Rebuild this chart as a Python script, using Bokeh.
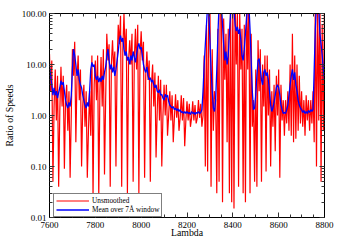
from bokeh.plotting import figure
from bokeh.models import (Range1d, SingleIntervalTicker, FixedTicker, LinearAxis,
                          LogAxis, CustomJSTickFormatter)
from bokeh.embed import file_html
from bokeh.resources import INLINE

# ---- data, wavelength grid 7600..8800 step 5 ----
lam_start, lam_stop, lam_step = 7600, 8800, 5
lam = list(range(lam_start, lam_stop + 1, lam_step))

unsmoothed = [
    16, 3, 12, 0.05, 1.5, 8, 0.8, 6, 0.04, 1.2,           # 7600
    9, 1.5, 6, 0.09, 2, 4, 0.5, 3, 0.06, 1,               # 7650
    20, 6, 28, 0.3, 5, 15, 2, 8, 0.1, 1.5,                # 7700
    4, 0.6, 3, 0.06, 0.5, 3, 0.4, 15, 0.025, 4,           # 7750
    12, 2, 15, 0.025, 3, 14, 1.5, 20, 0.07, 2,            # 7800
    40, 12, 25, 0.04, 10, 30, 8, 18, 0.1, 10,             # 7850
    60, 25, 90, 0.04, 20, 100, 15, 50, 0.03, 12,          # 7900
    30, 10, 40, 0.05, 12, 50, 8, 60, 0.03, 15,            # 7950
    45, 12, 28, 0.06, 6, 18, 5, 12, 0.05, 4,              # 8000
    10, 1.5, 7, 0.15, 1.2, 6, 0.8, 5, 0.1, 1,             # 8050
    4, 1, 4, 0.4, 1, 3, 0.8, 2.5, 0.3, 0.9,               # 8100
    2.6, 0.9, 2, 0.5, 0.9, 2.5, 0.8, 2.2, 0.25, 0.8,      # 8150
    1.9, 0.8, 1.7, 0.6, 0.9, 1.9, 0.8, 1.6, 0.7, 0.9,     # 8200
    2, 0.9, 1.7, 0.6, 1, 15, 0.1, 60, 0.08, 200,          # 8250
    200, 0.04, 20, 0.5, 3, 2, 0.03, 50, 0.05, 200,        # 8300
    200, 0.02, 80, 5, 40, 0.3, 50, 0.03, 200, 0.02,       # 8350
    200, 0.015, 200, 10, 100, 0.04, 100, 8, 50, 0.03,     # 8400
    60, 0.02, 200, 8, 200, 0.03, 40, 0.6, 2, 0.05,        # 8450
    8, 0.04, 30, 3, 20, 0.05, 10, 1.5, 15, 0.08,          # 8500
    15, 1, 8, 0.1, 3, 0.6, 4, 0.2, 6, 1,                  # 8550
    8, 0.06, 4, 0.8, 2, 0.4, 2, 0.7, 3, 0.5,              # 8600
    10, 0.4, 40, 0.3, 15, 0.35, 10, 0.5, 6, 0.7,          # 8650
    3, 0.6, 2, 0.4, 2.5, 0.8, 2, 0.5, 2, 0.7,             # 8700
    3, 0.3, 200, 0.1, 200, 0.8, 200, 0.05, 60, 0.5,       # 8750
    200,                                                  # 8800
]

smoothed = [
    9, 6, 4, 2.5, 3.5, 2.5, 3, 2.2, 2.8, 3.5,             # 7600
    4.8, 4, 4.5, 3, 2, 1.6, 1.4, 1.8, 1.5, 2.5,           # 7650
    8, 20, 15, 10, 6, 8, 5, 4, 3.5, 2.5,                  # 7700
    2, 1.6, 1.4, 1.8, 1.5, 3, 8, 11, 9, 10,               # 7750
    6, 5, 6, 4.5, 5.5, 4.6, 6, 5, 7, 9,                   # 7800
    14, 20, 12, 8, 10, 7, 9, 6, 8, 12,                    # 7850
    18, 30, 37, 28, 33, 20, 15, 18, 12, 14,               # 7900
    10, 15, 12, 18, 14, 11, 16, 22, 26, 20,               # 7950
    22, 15, 10, 8, 7, 9, 6, 5, 5.5, 4.5,                  # 8000
    5, 4, 3.5, 4, 3, 2.8, 3.2, 2.5, 2.6, 2.2,             # 8050
    2, 2.6, 2.3, 2.5, 1.9, 1.6, 1.5, 1.4, 1.5, 1.3,       # 8100
    1.4, 1.25, 1.35, 1.2, 1.3, 1.15, 1.2, 1.1, 1.2, 1.1,  # 8150
    1.2, 1.1, 1.15, 1.05, 1.2, 1.1, 1.15, 1.05, 1.15, 1.1,  # 8200
    1.2, 1.1, 1.15, 1.3, 3, 10, 25, 60, 150, 120,         # 8250
    30, 8, 3, 1.4, 1.2, 2, 8, 40, 150, 150,               # 8300
    150, 60, 25, 12, 18, 10, 15, 40, 100, 150,            # 8350
    150, 120, 60, 45, 55, 40, 50, 30, 15, 12,             # 8400
    20, 40, 80, 150, 150, 50, 12, 3, 1.3, 1.4,            # 8450
    2.5, 6, 12, 13, 8, 5, 4, 7, 8, 6,                     # 8500
    7, 5, 3, 1.6, 1.2, 1.4, 1.8, 2.5, 3.5, 4,             # 8550
    3.5, 2.5, 1.6, 1.3, 1.1, 1.15, 1.1, 1.3, 1.6, 2.5,    # 8600
    4, 6, 8, 5, 7, 4, 3, 2, 1.6, 1.4,                     # 8650
    1.3, 1.15, 1.25, 1.1, 1.2, 1.1, 1.25, 1.15, 1.3, 1.2,  # 8700
    1.3, 8, 50, 150, 150, 120, 40, 25, 15, 8,             # 8750
    5,                                                    # 8800
]

y_ticks = [0.01, 0.1, 1, 10, 100]
series_labels = ["Unsmoothed", "Mean over 7Å window"]
x_label = "Lambda"
y_label = "Ratio of Speeds"

assert len(unsmoothed) == len(lam) == len(smoothed)

FONT = "Liberation Serif"

p = figure(width=342, height=247, y_axis_type="log",
           x_range=Range1d(7600, 8800), y_range=Range1d(0.01, 100),
           output_backend="svg", toolbar_location=None,
           min_border_left=48, min_border_right=18,
           min_border_top=13, min_border_bottom=30)
p.grid.visible = False
p.outline_line_color = "black"
p.background_fill_color = "white"
p.border_fill_color = "white"

p.line(lam, unsmoothed, line_color="#ff0000", line_width=1.2,
       legend_label=series_labels[0])
p.line(lam, smoothed, line_color="#0000ff", line_width=1.3,
       legend_label=series_labels[1])

xt = SingleIntervalTicker(interval=200, num_minor_ticks=4)
minor_y = [m * 10.0 ** e for e in range(-2, 2) for m in range(2, 10)]
yt = FixedTicker(ticks=y_ticks, minor_ticks=minor_y)
fmt = CustomJSTickFormatter(code="return tick.toFixed(2);")
blank = CustomJSTickFormatter(code="return '';")


def style(ax, labels=True):
    ax.major_tick_in = 5
    ax.major_tick_out = 0
    ax.minor_tick_in = 3
    ax.minor_tick_out = 0
    ax.axis_line_color = "black"
    ax.major_tick_line_color = "#333333"
    ax.minor_tick_line_color = "#333333"
    ax.major_label_text_font = FONT
    ax.major_label_text_color = "black"
    ax.major_label_text_font_size = "9px"
    ax.axis_label_text_font = FONT
    ax.axis_label_text_font_style = "normal"
    ax.axis_label_text_color = "black"
    ax.axis_label_text_font_size = "9.8px"
    if not labels:
        ax.formatter = blank
        ax.major_label_text_font_size = "1px"
        ax.major_label_standoff = 0


xa = p.xaxis[0]
xa.ticker = xt
xa.axis_label = x_label
style(xa)
xa.major_label_standoff = 4
xa.axis_label_standoff = -4

ya = p.yaxis[0]
ya.ticker = yt
ya.formatter = fmt
ya.axis_label = y_label
style(ya)
ya.major_label_standoff = 3
ya.axis_label_standoff = 4

top = LinearAxis(ticker=xt)
style(top, labels=False)
p.add_layout(top, "above")

right = LogAxis(ticker=yt)
style(right, labels=False)
p.add_layout(right, "right")

lg = p.legend[0]
lg.location = (4, 0)
lg.border_line_color = "black"
lg.border_line_width = 1
lg.background_fill_alpha = 1
lg.label_text_font = FONT
lg.label_text_font_size = "7.3px"
lg.label_text_color = "black"
lg.label_height = 7
lg.glyph_height = 7
lg.glyph_width = 33
lg.label_standoff = 3
lg.spacing = -3
lg.padding = 2
lg.margin = 0

open("out.html", "w").write(file_html(p, INLINE))
